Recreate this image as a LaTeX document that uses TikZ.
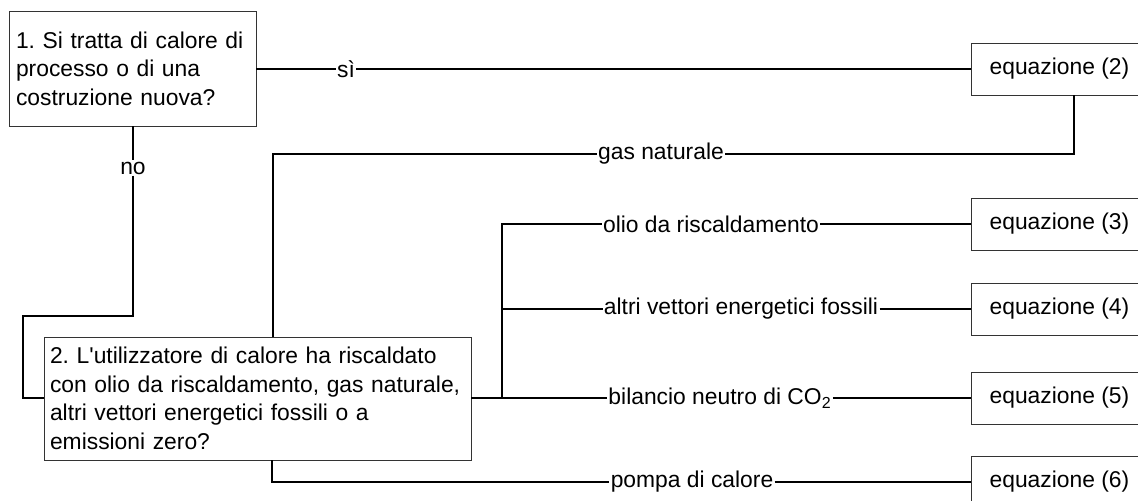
\documentclass[tikz,border=0pt]{standalone}
\usepackage{fontspec}
\setmainfont{Liberation Sans}
\usetikzlibrary{positioning,calc}
\frenchspacing

\begin{document}
\begin{tikzpicture}[x=0.02cm,y=-0.02cm,
  frage/.style={draw=black!80,line width=0.5pt,align=left,inner ysep=0pt,font=\fontsize{13}{16.2}\selectfont},
  gleich/.style={draw=black!80,line width=0.5pt,anchor=west,minimum width=3.52cm,minimum height=1.04cm,font=\fontsize{13}{15.4}\selectfont},
  lab/.style={inner sep=0.6pt,font=\fontsize{13}{15.4}\selectfont},
  line/.style={line width=0.9pt}]
  \useasboundingbox (0,0) rectangle (1138,500);
  \node[frage,text width=4.66cm,inner xsep=0.14cm,minimum height=2.3cm] (q1) at (132.5,68.5) {1. Si tratta di calore di\\processo o di una\\costruzione nuova?};
  \node[frage,text width=8.3cm,inner xsep=0.12cm,minimum height=2.46cm] (q2) at (257.5,398.5) {2. L\textquotesingle utilizzatore di calore ha riscaldato\\con olio da riscaldamento, gas naturale,\\altri vettori energetici fossili o a\\emissioni zero?};
  \node[gleich] (eq2) at (971,69) {equazione (2)};
  \node[gleich] (eq3) at (971,224) {equazione (3)};
  \node[gleich] (eq4) at (971,309) {equazione (4)};
  \node[gleich] (eq5) at (971,398) {equazione (5)};
  \node[gleich] (eq6) at (971,482) {equazione (6)};
  \node[lab] (si) at (346,69) {sì};
  \node[lab] (no) at (133,168) {no};
  \node[lab] (gas) at (661,154) {gas naturale};
  \node[lab] (olio) at (711,224) {olio da riscaldamento};
  \node[lab] (altri) at (741,309) {altri vettori energetici fossili};
  \node[lab] (bil) at (720,398) {bilancio neutro di CO\textsubscript{2}};
  \node[lab] (pompa) at (692,482) {pompa di calore};
  \coordinate (g1) at (1074,154);
  \coordinate (g2) at (273,154);
  \coordinate (v3) at (502,224);
  \coordinate (v4) at (502,309);
  \coordinate (v5) at (502,398);
  \coordinate (p1) at (272,482);
  \coordinate (n1) at (133,316);
  \coordinate (n2) at (23,316);
  \draw[line] (q1.east |- si) -- (si) -- (eq2);
  \draw[line] (q1.south -| no) -- (no) -- (n1) -- (n2) -- (n2 |- v5) -- (q2.west |- v5);
  \draw[line] (eq2.south -| g1) -- (g1) -- (gas) -- (g2) -- (q2.north -| g2);
  \draw[line] (q2.east |- v5) -- (v5) -- (bil) -- (eq5);
  \draw[line] (v5) -- (v3) -- (olio) -- (eq3);
  \draw[line] (v4) -- (altri) -- (eq4);
  \draw[line] (q2.south -| p1) -- (p1) -- (pompa) -- (eq6);
\end{tikzpicture}
\end{document}
